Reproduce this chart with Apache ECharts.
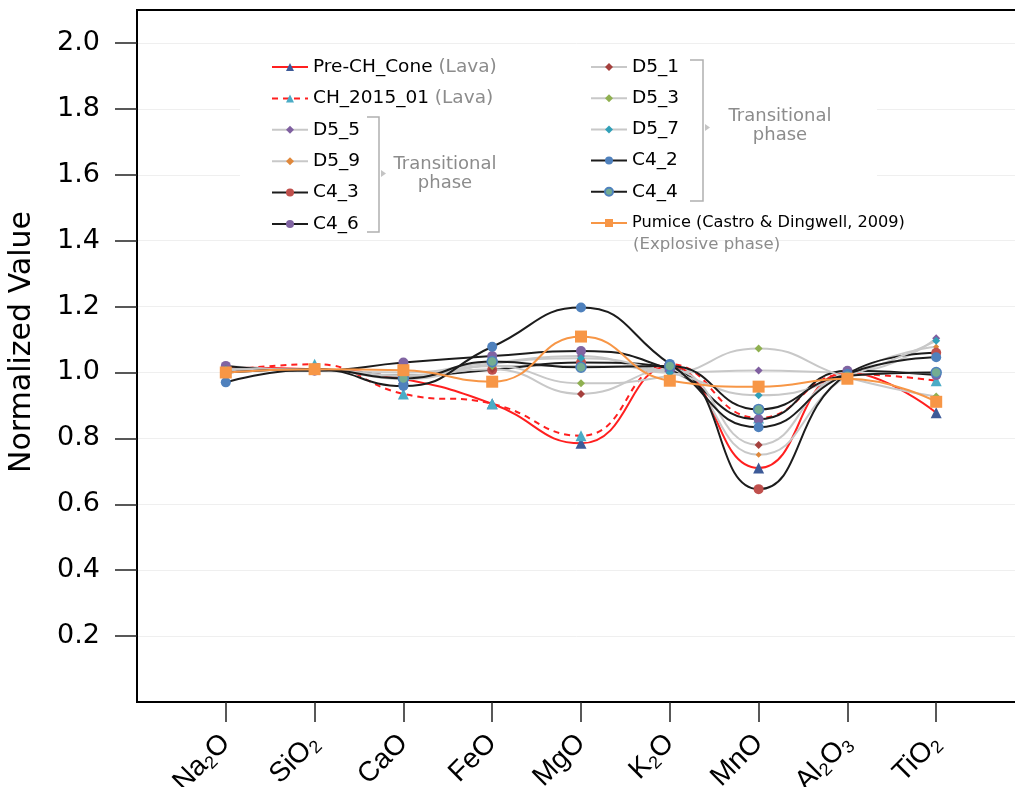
<!DOCTYPE html>
<html>
<head>
<meta charset="utf-8">
<script src="https://cdn.jsdelivr.net/npm/echarts@6/dist/echarts.min.js"></script>
<style>
  html, body { margin: 0; padding: 0; background: #ffffff; }
  #chart { width: 1015px; height: 787px; }
</style>
</head>
<body>
<div id="chart"></div>
<script>
// Oxides along the x axis (rich-text labels carry the subscripts)
const oxides = ['Na2O', 'SiO2', 'CaO', 'FeO', 'MgO', 'K2O', 'MnO', 'Al2O3', 'TiO2'];
const oxideLabels = ['Na{s|2}O', 'SiO{s|2}', 'CaO', 'FeO', 'MgO', 'K{s|2}O', 'MnO', 'Al{s|2}O{s|3}', 'TiO{s|2}'];
const yTicks = [0.2, 0.4, 0.6, 0.8, 1.0, 1.2, 1.4, 1.6, 1.8, 2.0];

// Normalized oxide values, one array per sample (same order as oxides)
const preChCone = [1.015, 1.010, 0.980, 0.905, 0.785, 1.020, 0.710, 1.000, 0.878];
const ch201501  = [1.005, 1.025, 0.935, 0.905, 0.808, 1.025, 0.862, 0.995, 0.975];
const d5_5      = [1.020, 1.005, 1.000, 1.030, 1.050, 1.000, 1.006, 1.000, 1.104];
const d5_9      = [1.010, 1.010, 0.990, 1.020, 1.020, 1.000, 0.750, 0.990, 1.078];
const c4_3      = [1.010, 1.010, 0.990, 1.008, 1.030, 1.016, 0.646, 0.995, 1.060];
const c4_6      = [1.020, 1.005, 1.030, 1.050, 1.065, 1.008, 0.858, 1.005, 0.992];
const d5_1      = [1.010, 1.010, 0.990, 1.010, 0.935, 1.010, 0.780, 0.990, 1.000];
const d5_3      = [1.000, 1.010, 0.990, 1.020, 0.967, 0.990, 1.073, 0.985, 0.927];
const d5_7      = [1.010, 1.010, 0.980, 1.026, 1.043, 1.000, 0.931, 0.990, 1.096];
const c4_2      = [0.970, 1.010, 0.959, 1.078, 1.197, 1.026, 0.834, 0.995, 1.046];
const c4_4      = [1.000, 1.010, 0.982, 1.033, 1.016, 1.020, 0.888, 0.990, 1.000];
const pumice    = [1.000, 1.010, 1.007, 0.972, 1.109, 0.975, 0.957, 0.981, 0.911];

const GREY = '#c8c8c8';
const BLACK = '#1c1c1c';
const RED = '#ff1f1f';
const ORANGE = '#f79646';

function line(name, values, lineColor, symbol, symbolSize, markColor, extra) {
  const s = {
    name: name,
    type: 'line',
    smooth: 0.5,
    data: values.map((v, i) => [i + 1, v]),
    symbol: symbol,
    symbolSize: symbolSize,
    showSymbol: true,
    lineStyle: { color: lineColor, width: 2 },
    itemStyle: { color: markColor },
    emphasis: { disabled: true }
  };
  if (extra) Object.assign(s, extra(s));
  return s;
}

const series = [
  line('Pre-CH_Cone', preChCone, RED, 'triangle', 11, '#3d5a98'),
  line('CH_2015_01', ch201501, RED, 'triangle', 11, '#4bacc6',
       s => ({ lineStyle: { color: RED, width: 2, type: [6, 5] } })),
  line('D5_5', d5_5, GREY, 'diamond', 8, '#7f5fa0'),
  line('D5_9', d5_9, GREY, 'diamond', 6, '#e0883a'),
  line('C4_3', c4_3, BLACK, 'circle', 10, '#c0504d'),
  line('C4_6', c4_6, BLACK, 'circle', 10, '#8064a2'),
  line('D5_1', d5_1, GREY, 'diamond', 8, '#a5403d'),
  line('D5_3', d5_3, GREY, 'diamond', 8, '#8fb050'),
  line('D5_7', d5_7, GREY, 'diamond', 8, '#31a0b8'),
  line('C4_2', c4_2, BLACK, 'circle', 10, '#4f81bd'),
  line('C4_4', c4_4, BLACK, 'circle', 10, '#74ad92',
       s => ({ itemStyle: { color: '#74ad92', borderColor: '#4f81bd', borderWidth: 1.5 } })),
  line('Pumice (Castro & Dingwell, 2009)', pumice, ORANGE, 'rect', 12, ORANGE)
];

const legendText = {
  fontFamily: 'DejaVu Sans',
  fontSize: 18.5,
  color: '#000000',
  lineHeight: 20,
  rich: {
    g: { fontFamily: 'DejaVu Sans', fontSize: 18.5, color: '#8c8c8c', lineHeight: 20 },
    p: { fontFamily: 'DejaVu Sans', fontSize: 16.2, color: '#000000', lineHeight: 20 }
  }
};
function legendFormatter(name) {
  if (name === 'Pre-CH_Cone' || name === 'CH_2015_01') return name + ' {g|(Lava)}';
  if (name.indexOf('Pumice') === 0) return '{p|' + name + '}';
  return name;
}

const greyText = '#8c8c8c';
const bracket = '#b0b0b0';

const option = {
  animation: false,
  backgroundColor: '#ffffff',
  grid: {
    left: 137, right: -10, top: 10, bottom: 85,
    outerBoundsMode: 'none',
    containLabel: false,
    show: true, borderColor: '#000000', borderWidth: 2, backgroundColor: 'transparent'
  },
  xAxis: {
    type: 'value',
    min: 0, max: 10, interval: 1,
    axisLine: { show: true, lineStyle: { color: '#000000', width: 2 } },
    axisTick: { show: true, length: 20, customValues: oxides.map((_, i) => i + 1),
                lineStyle: { color: '#222222', width: 1.5 } },
    splitLine: { show: false },
    axisLabel: {
      customValues: oxides.map((_, i) => i + 1),
      formatter: v => oxideLabels[Math.round(v) - 1] || '',
      rotate: 45,
      margin: 37,
      fontFamily: 'Liberation Sans',
      fontSize: 28,
      lineHeight: 32,
      color: '#000000',
      rich: {
        s: { fontFamily: 'Liberation Sans', fontSize: 18, lineHeight: 18, verticalAlign: 'bottom', color: '#000000' }
      }
    }
  },
  yAxis: {
    type: 'value',
    min: 0, max: 2.1, interval: 0.2,
    name: 'Normalized Value',
    nameLocation: 'middle',
    nameGap: 100,
    nameTextStyle: { fontFamily: 'DejaVu Sans', fontSize: 30, color: '#000000', padding: [0, 0, 0, 28] },
    axisLine: { show: true, lineStyle: { color: '#000000', width: 2 } },
    axisTick: { show: true, length: 22, customValues: yTicks, lineStyle: { color: '#222222', width: 1.5 } },
    splitLine: { show: true, lineStyle: { color: '#efefef', width: 1 } },
    axisLabel: {
      customValues: yTicks,
      formatter: v => v.toFixed(1),
      margin: 37,
      fontFamily: 'DejaVu Sans',
      fontSize: 27,
      color: '#000000'
    }
  },
  legend: [
    {
      data: ['Pre-CH_Cone', 'CH_2015_01', 'D5_5', 'D5_9', 'C4_3', 'C4_6'],
      orient: 'vertical', left: 266, top: 52,
      itemWidth: 36, itemHeight: 10, itemGap: 11.4,
      selectedMode: false,
      textStyle: legendText,
      formatter: legendFormatter
    },
    {
      data: ['D5_1', 'D5_3', 'D5_7', 'C4_2', 'C4_4', 'Pumice (Castro & Dingwell, 2009)'],
      orient: 'vertical', left: 585, top: 52,
      itemWidth: 36, itemHeight: 10, itemGap: 11.2,
      selectedMode: false,
      textStyle: legendText,
      formatter: legendFormatter
    }
  ],
  graphic: [
    // white panel behind the legend block
    { type: 'rect', z: 1, silent: true, shape: { x: 240, y: 50, width: 637, height: 186 }, style: { fill: '#ffffff' } },
    // left bracket
    { type: 'polyline', z: 5, silent: true, shape: { points: [[367, 117], [379, 117], [379, 232], [367, 232]] },
      style: { stroke: bracket, lineWidth: 1.5, fill: null } },
    { type: 'polygon', z: 5, silent: true, shape: { points: [[381, 170], [386, 173.5], [381, 177]] }, style: { fill: '#c4c4c4' } },
    { type: 'text', z: 5, silent: true, x: 445, y: 174,
      style: { text: 'Transitional\nphase', fontFamily: 'DejaVu Sans', fontSize: 18, lineHeight: 19,
               fill: greyText, align: 'center', verticalAlign: 'middle' } },
    // right bracket
    { type: 'polyline', z: 5, silent: true, shape: { points: [[690, 60], [703, 60], [703, 201], [690, 201]] },
      style: { stroke: bracket, lineWidth: 1.5, fill: null } },
    { type: 'polygon', z: 5, silent: true, shape: { points: [[705, 124], [710, 127.5], [705, 131]] }, style: { fill: '#c4c4c4' } },
    { type: 'text', z: 5, silent: true, x: 780, y: 126,
      style: { text: 'Transitional\nphase', fontFamily: 'DejaVu Sans', fontSize: 18, lineHeight: 19,
               fill: greyText, align: 'center', verticalAlign: 'middle' } },
    { type: 'text', z: 5, silent: true, x: 633, y: 245,
      style: { text: '(Explosive phase)', fontFamily: 'DejaVu Sans', fontSize: 16.6,
               fill: greyText, align: 'left', verticalAlign: 'middle' } }
  ],
  series: series
};

const chart = echarts.init(document.getElementById('chart'), null, { renderer: 'canvas' });
chart.setOption(option);
</script>
</body>
</html>
